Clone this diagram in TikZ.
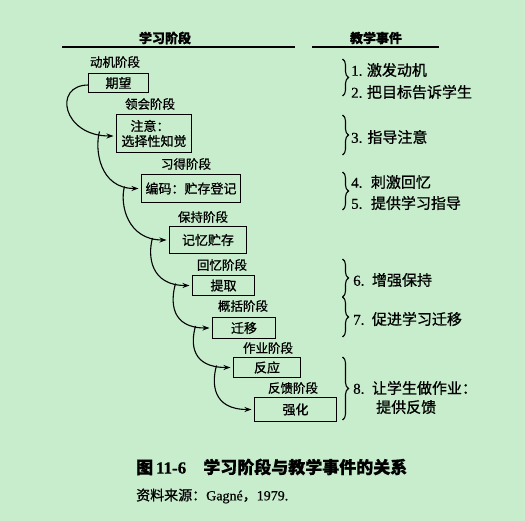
\documentclass[tikz,border=0pt]{standalone}
\usepackage{fontspec}
\setmainfont[FakeBold=0.6]{Liberation Serif}
\newfontfamily\cjk[FakeBold=0.9]{Noto Sans CJK SC}
\usetikzlibrary{arrows.meta,decorations.pathreplacing}
\definecolor{bg}{RGB}{199,237,204}
\begin{document}
\begin{tikzpicture}[x=1pt,y=-1pt,
  box/.style={draw,line width=1.5pt,inner sep=0pt,outer sep=0pt,font=\cjk\fontsize{13}{15}\selectfont},
  stage/.style={font=\cjk\fontsize{12.5}{14}\selectfont,inner sep=0pt},
  head/.style={font=\cjk\bfseries\fontsize{13}{15}\selectfont,inner sep=0pt},
  event/.style={anchor=west,inner sep=0pt,font=\fontsize{15}{19}\selectfont,align=left},
  captxt/.style={anchor=west,inner sep=0pt},
  rulel/.style={line width=1.8pt},
  flow/.style={line width=1.1pt,-{Stealth[length=7pt,width=5pt]},shorten >=3pt},
  brk/.style={decorate,decoration={brace,amplitude=6pt},line width=1.1pt},
]
\fill[bg] (0,0) rectangle (525,521);
\useasboundingbox (0,0) rectangle (525,521);

% headers
\node[head] (h1) at (165,38) {学习阶段};
\node[head] (h2) at (376,38) {教学事件};
\coordinate (r1a) at (62,47); \coordinate (r1b) at (295,47);
\coordinate (r2a) at (312,47); \coordinate (r2b) at (439,47);
\draw[rulel] (r1a) -- (r1b);
\draw[rulel] (r2a) -- (r2b);

% stage labels
\node[stage] (l1) at (115,62) {动机阶段};
\node[stage] (l2) at (150,104) {领会阶段};
\node[stage] (l3) at (186,164) {习得阶段};
\node[stage] (l4) at (203,217) {保持阶段};
\node[stage] (l5) at (222,265) {回忆阶段};
\node[stage] (l6) at (243,306) {概括阶段};
\node[stage] (l7) at (268,348) {作业阶段};
\node[stage] (l8) at (293,388) {反馈阶段};

% boxes
\node[box,minimum width=60pt,minimum height=19pt] (b1) at (118.5,83) {期望};
\node[box,minimum width=75pt,minimum height=38pt,align=left] (b2) at (154,133.5) {\hspace{9pt}注意：\\选择性知觉};
\node[box,minimum width=99pt,minimum height=28pt] (b3) at (191,188.5) {编码：贮存登记};
\node[box,minimum width=77pt,minimum height=27pt] (b4) at (208,240) {记忆贮存};
\node[box,minimum width=62pt,minimum height=20pt] (b5) at (223.5,285.5) {提取};
\node[box,minimum width=63pt,minimum height=21pt] (b6) at (244,328) {迁移};
\node[box,minimum width=67pt,minimum height=20pt] (b7) at (267,367.5) {反应};
\node[box,minimum width=82pt,minimum height=24pt] (b8) at (295.5,409.5) {强化};

% flow connectors
\coordinate (s1) at ([yshift=-2pt]b1.west);
\coordinate (e2) at ([yshift=-2.5pt]b2.west);
\draw[flow] (s1) .. controls +(-36,0) and +(-54,0) .. (e2);
\coordinate (s2) at ([shift={(-17pt,2pt)}]b2.west);
\draw[flow] (s2) .. controls +(-5,18) and +(-42,0) .. (b3.west);
\coordinate (s3) at ([shift={(-17pt,2pt)}]b3.west);
\draw[flow] (s3) .. controls +(-5,18) and +(-42,0) .. (b4.west);
\coordinate (s4) at ([shift={(-17pt,2pt)}]b4.west);
\draw[flow] (s4) .. controls +(-5,18) and +(-42,0) .. (b5.west);
\coordinate (s5) at ([shift={(-17pt,2pt)}]b5.west);
\draw[flow] (s5) .. controls +(-5,18) and +(-42,0) .. (b6.west);
\coordinate (s6) at ([shift={(-17pt,2pt)}]b6.west);
\draw[flow] (s6) .. controls +(-5,18) and +(-42,0) .. (b7.west);
\coordinate (s7) at ([shift={(-17pt,2pt)}]b7.west);
\draw[flow] (s7) .. controls +(-5,18) and +(-42,0) .. (b8.west);

% brackets
\coordinate (k1a) at (342.5,59);  \coordinate (k1b) at (342.5,96);
\coordinate (k2a) at (342.5,115); \coordinate (k2b) at (342.5,155);
\coordinate (k3a) at (342.5,172); \coordinate (k3b) at (342.5,210);
\coordinate (k4a) at (342.5,259); \coordinate (k4b) at (342.5,297);
\coordinate (k5a) at (342.5,297); \coordinate (k5b) at (342.5,337);
\coordinate (k6a) at (342.5,357); \coordinate (k6b) at (342.5,420);
\draw[brk] (k1a) -- (k1b);
\draw[brk] (k2a) -- (k2b);
\draw[brk] (k3a) -- (k3b);
\draw[brk] (k4a) -- (k4b);
\draw[brk] (k5a) -- (k5b);
\draw[brk] (k6a) -- (k6b);

% events
\node[event] (ev1) at (351,70) {1.\hspace{4.5pt}{\cjk 激发动机}};
\node[event] (ev2) at (351,92) {2.\hspace{4.5pt}{\cjk 把目标告诉学生}};
\node[event] (ev3) at (351,137) {3.\hspace{5pt}{\cjk 指导注意}};
\node[event] (ev4) at (351,182) {4.\hspace{8.5pt}{\cjk 刺激回忆}};
\node[event] (ev5) at (351,203) {5.\hspace{8.5pt}{\cjk 提供学习指导}};
\node[event] (ev6) at (353,280) {6.\hspace{7.5pt}{\cjk 增强保持}};
\node[event] (ev7) at (353,319) {7.\hspace{7.5pt}{\cjk 促进学习迁移}};
\node[event] (ev8) at (353,397.5) {8.\hspace{7.5pt}{\cjk 让学生做作业：}\\\hspace{23pt}{\cjk 提供反馈}};

% caption
\node[captxt,font=\bfseries\fontsize{17}{20}\selectfont] (cap1) at (136,467) {{\cjk 图}\,11-6\hspace{17pt}{\cjk 学习阶段与教学事件的关系}};
\node[captxt,font=\fontsize{14}{17}\selectfont] (cap2) at (136,496) {{\cjk 资料来源：}Gagné{\cjk ，}1979.};
\end{tikzpicture}
\end{document}
